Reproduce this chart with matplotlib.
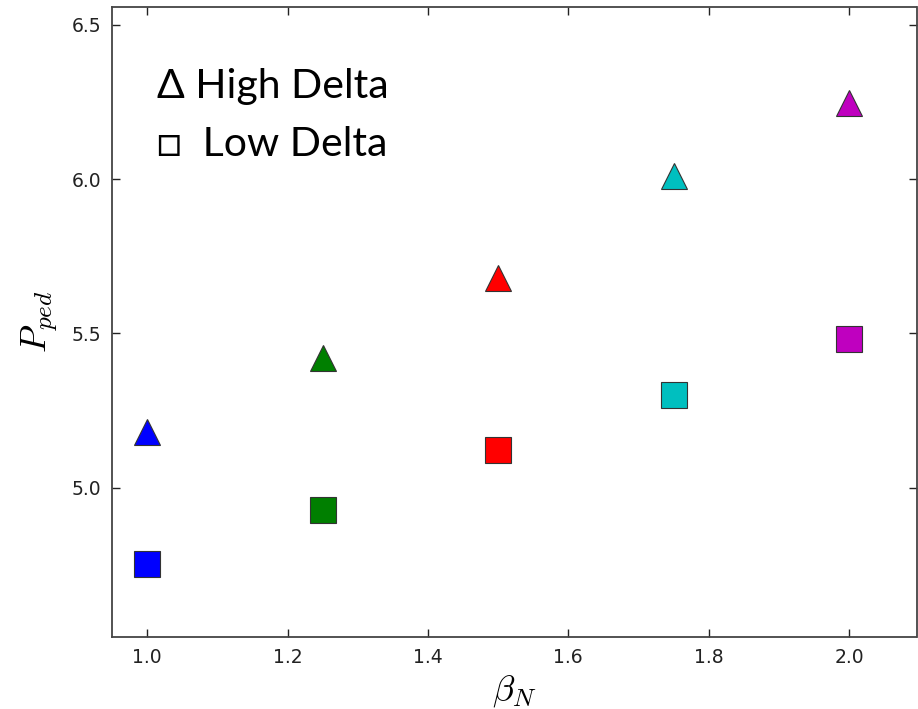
import matplotlib
matplotlib.use("Agg")
import matplotlib.pyplot as plt

beta_n = [1.0, 1.25, 1.5, 1.75, 2.0]
p_ped_high = [5.179, 5.421, 5.681, 6.009, 6.247]
p_ped_low = [4.754, 4.929, 5.123, 5.299, 5.481]
colors = ["#0000ff", "#007f00", "#ff0000", "#00bfbf", "#bf00bf"]
x_ticks = [1.0, 1.2, 1.4, 1.6, 1.8, 2.0]
y_ticks = [5.0, 5.5, 6.0, 6.5]

plt.rcParams["mathtext.fontset"] = "cm"

fig = plt.figure(figsize=(9.18, 7.09), dpi=100)
ax = fig.add_axes([112 / 918, 1 - 637 / 709, (916.5 - 112) / 918, (637 - 7) / 709])

for x, yh, yl, c in zip(beta_n, p_ped_high, p_ped_low, colors):
    ax.plot(x, yh, marker="^", ms=18.5, color=c, mec="#333333", mew=0.8, ls="none")
    ax.plot(x, yl, marker="s", ms=18.5, color=c, mec="#333333", mew=0.8, ls="none")

ax.set_xlim(0.95, 2.096)
ax.set_ylim(4.516, 6.558)
ax.set_xticks(x_ticks)
ax.set_yticks(y_ticks)
ax.tick_params(direction="in", length=6, width=1, top=True, right=True,
               labelsize=13.5, pad=8, colors="#222222")
for s in ax.spines.values():
    s.set_linewidth(1.3)
    s.set_color("#444444")

ax.set_xlabel(r"$\beta_N$", fontsize=26, labelpad=4)
ax.set_ylabel(r"$P_{ped}$", fontsize=26, labelpad=8)

ax.text(157, 709 - 98, "\u0394 High Delta", transform=None, fontsize=29.5,
        family=["Lato", "DejaVu Sans"], va="baseline", ha="left")
ax.text(157, 709 - 156, "\u25a1  Low Delta", transform=None, fontsize=29.5,
        family=["Lato", "DejaVu Sans"], va="baseline", ha="left")

fig.savefig("out.png", dpi=100)
